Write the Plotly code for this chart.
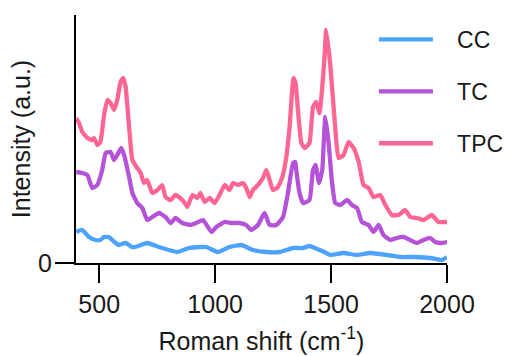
import plotly.graph_objects as go

# Raman shift positions (cm^-1) and intensities (a.u.)
x_cc = [401, 427, 456, 485, 505, 521, 541, 571, 584, 614, 641, 657, 707, 758, 801, 837,
        887, 936, 962, 1012, 1062, 1113, 1163, 1221, 1278, 1336, 1379, 1407, 1440, 1471,
        1497, 1554, 1612, 1668, 1741, 1799, 1870, 1928, 1978, 2000]
y_cc = [31, 33, 26, 23, 23, 26, 26, 20, 18, 20, 16, 16, 20, 16, 13, 11,
        15, 16, 16, 11, 16, 18, 13, 11, 11, 15, 15, 17, 14, 11,
        8, 10, 8, 10, 8, 6, 6, 5, 3, 6]

x_tc = [401, 427, 449, 470, 492, 513, 528, 549, 564, 578, 595, 610, 629, 643, 664, 686,
        707, 729, 758, 786, 808, 829, 858, 894, 919, 948, 984, 1005, 1041, 1070, 1105,
        1134, 1156, 1185, 1213, 1235, 1264, 1293, 1314, 1336, 1346, 1350, 1364, 1379,
        1407, 1422, 1433, 1448, 1462, 1475, 1489, 1504, 1518, 1540, 1569, 1590, 1612,
        1633, 1662, 1683, 1705, 1726, 1755, 1784, 1813, 1841, 1870, 1899, 1928, 1949,
        1971, 2000]
y_tc = [91, 90, 88, 75, 78, 93, 110, 111, 103, 108, 115, 106, 86, 70, 60, 55,
        43, 46, 50, 46, 40, 45, 40, 38, 40, 43, 31, 36, 41, 40, 40,
        38, 33, 38, 50, 38, 38, 46, 70, 100, 101, 93, 70, 60,
        63, 93, 98, 80, 93, 146, 121, 81, 60, 58, 63, 58, 55,
        41, 38, 31, 38, 28, 23, 25, 26, 23, 20, 23, 25, 21,
        20, 21]

x_tpc = [401, 413, 427, 449, 470, 478, 492, 505, 521, 535, 549, 564, 578, 592, 603, 614,
         629, 643, 664, 679, 693, 707, 729, 751, 772, 786, 808, 829, 844, 866, 880,
         902, 923, 936, 955, 976, 998, 1019, 1041, 1062, 1077, 1099, 1120, 1134, 1149,
         1163, 1185, 1206, 1221, 1235, 1249, 1271, 1290, 1307, 1321, 1338, 1347, 1357,
         1372, 1386, 1407, 1422, 1436, 1450, 1462, 1471, 1479, 1497, 1518, 1532, 1554,
         1575, 1597, 1619, 1640, 1662, 1683, 1712, 1734, 1762, 1791, 1820, 1841, 1870,
         1899, 1934, 1963, 2000]
y_tpc = [145, 140, 131, 125, 123, 125, 118, 121, 148, 163, 160, 153, 163, 181, 185, 176,
         136, 103, 95, 90, 80, 83, 70, 73, 78, 66, 63, 68, 66, 61, 56,
         68, 65, 70, 61, 65, 60, 68, 78, 73, 80, 78, 80, 75, 66,
         73, 78, 85, 93, 83, 73, 76, 86, 106, 136, 185, 180, 153,
         120, 115, 120, 156, 161, 150, 176, 203, 233, 197, 135, 105, 108,
         121, 115, 101, 78, 75, 66, 68, 58, 48, 48, 53, 46, 45,
         43, 48, 41, 41]

series_names = ["CC", "TC", "TPC"]
series_x = [x_cc, x_tc, x_tpc]
series_y = [y_cc, y_tc, y_tpc]
series_colors = ["#4da3fb", "#b452d8", "#fd6593"]

FONT = "Liberation Sans, Arial, Helvetica, sans-serif"
FS = 25
TXT = "#1a1a1a"
PAD = "\u00a0\u00a0\u00a0"

fig = go.Figure()
for name, xs, ys, col in zip(series_names, series_x, series_y, series_colors):
    fig.add_trace(go.Scatter(
        x=xs, y=ys, mode="lines", name=PAD + name, legendgroup=name,
        line=dict(color=col, width=4.3, shape="spline", smoothing=0.4),
    ))

fig.update_layout(
    width=507, height=356,
    margin=dict(l=76, r=60, t=15, b=93, autoexpand=False),
    paper_bgcolor="white", plot_bgcolor="white",
    font=dict(family=FONT, size=FS, color=TXT),
    showlegend=True,
    legend=dict(
        x=0.803, y=0.988, xanchor="left", yanchor="top",
        font=dict(family=FONT, size=23, color=TXT),
        bgcolor="rgba(0,0,0,0)", itemwidth=54,
        traceorder="grouped", tracegroupgap=19,
    ),
    xaxis=dict(
        range=[400, 2000], showgrid=False, zeroline=False,
        showline=True, linecolor="black", linewidth=2,
        tickvals=[500, 1000, 1500, 2000],
        ticks="outside", ticklen=18, tickwidth=2, tickcolor="black",
        tickfont=dict(size=FS, color=TXT),
        title=dict(text="Roman shift (cm<sup>-1</sup>)", font=dict(size=FS, color=TXT),
                   standoff=15),
    ),
    yaxis=dict(
        range=[0, 248], showgrid=False, zeroline=False,
        showline=True, linecolor="black", linewidth=2,
        tickvals=[0], ticktext=["0"],
        ticks="outside", ticklen=19, tickwidth=2, tickcolor="black",
        ticklabelstandoff=-2,
        tickfont=dict(size=FS, color=TXT),
        title=dict(text="Intensity (a.u.)", font=dict(size=FS, color=TXT),
                   standoff=0),
    ),
)

fig.write_html("out.html")
